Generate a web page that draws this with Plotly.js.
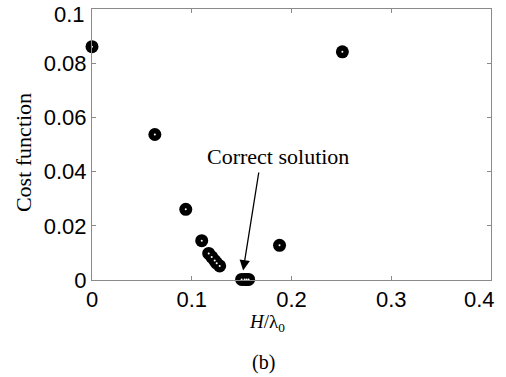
<!DOCTYPE html>
<html><head><meta charset="utf-8">
<script src="https://cdn.plot.ly/plotly-3.0.1.min.js"></script>
<style>body{margin:0;background:#fff}#c{width:506px;height:377px}</style>
</head><body><div id="c"></div>
<script>
const xVals = [0.0, 0.063, 0.251, 0.094, 0.110, 0.117, 0.120, 0.123, 0.125, 0.128, 0.188, 0.150, 0.153, 0.155, 0.157];
const yVals = [0.0861, 0.0537, 0.0842, 0.0261, 0.0145, 0.0098, 0.0085, 0.0072, 0.0062, 0.0052, 0.0128, 0.0002, 0.0002, 0.0002, 0.0002];
const xTicks = [0, 0.1, 0.2, 0.3, 0.4];
const xTickText = ['0', '0.1', '0.2', '0.3', '0.4'];
const yTicks = [0, 0.02, 0.04, 0.06, 0.08, 0.1];
const yTickText = ['0', '0.02', '0.04', '0.06', '0.08', '0.1'];
const annText = 'Correct solution';
const xTitle = '<i>H</i>/λ<sub>0</sub>';
const yTitle = 'Cost function';
const panelLabel = '(b)';
const annX = 0.1515, annY = 0.0035;

const serif = 'Liberation Serif, Times New Roman, serif';
const sans = 'Liberation Sans, Arial, sans-serif';
const traces = [
  {x: xVals, y: yVals, type: 'scatter', mode: 'markers', cliponaxis: false,
   marker: {symbol: 'circle', size: 13, color: '#000000', line: {width: 0}}, hoverinfo: 'none'},
  {x: xVals, y: yVals, type: 'scatter', mode: 'markers', cliponaxis: false,
   marker: {symbol: 'circle', size: 2, color: '#ffffff', line: {width: 0}}, hoverinfo: 'none'}
];
// Edge labels (last of each axis) are drawn as annotations so they stay inside the page, as in the reference
const xText = xTickText.map((t, i) => i === xTickText.length - 1 ? ' ' : t);
const yText = yTickText.map((t, i) => i === yTickText.length - 1 ? ' ' : t);
const axisCommon = {
  showgrid: false, zeroline: false, showline: true, linecolor: '#8a8a8a', linewidth: 1,
  mirror: 'ticks', ticks: 'inside', ticklen: 4, tickcolor: '#8a8a8a', ticklabeloverflow: 'allow',
  tickfont: {family: sans, size: 22, color: '#000000'}
};
const layout = {
  width: 506, height: 377, showlegend: false,
  paper_bgcolor: '#ffffff', plot_bgcolor: '#ffffff',
  margin: {l: 92, r: 15, t: 9, b: 97},
  xaxis: Object.assign({}, axisCommon, {range: [0, 0.4], tickvals: xTicks, ticktext: xText}),
  yaxis: Object.assign({}, axisCommon, {range: [0, 0.10002], tickvals: yTicks, ticktext: yText}),
  annotations: [
    {x: annX, y: annY, xref: 'x', yref: 'y',
     ax: 259 - (92 + annX * 997.5), ay: 171 - (280 - annY * 2710),
     text: '', showarrow: true, arrowhead: 2, arrowsize: 1.6, arrowwidth: 1.3, arrowcolor: '#000000'},
    {x: 0.186, y: 0.0455, xref: 'x', yref: 'y', text: annText, showarrow: false,
     font: {family: serif, size: 22, color: '#000000'}},
    {x: 0.4386, y: -0.159, xref: 'paper', yref: 'paper', xanchor: 'center', yanchor: 'middle',
     text: xTitle, showarrow: false, font: {family: serif, size: 19, color: '#000000'}},
    {x: -0.173, y: 0.472, xref: 'paper', yref: 'paper', xanchor: 'center', yanchor: 'middle', textangle: -90,
     text: yTitle, showarrow: false, font: {family: serif, size: 22, color: '#000000'}},
    {x: 0.431, y: -0.306, xref: 'paper', yref: 'paper', xanchor: 'center', yanchor: 'middle',
     text: panelLabel, showarrow: false, font: {family: serif, size: 20, color: '#000000'}},
    {x: -0.015, y: 0.978, xref: 'paper', yref: 'paper', xanchor: 'right', yanchor: 'middle',
     text: yTickText[yTickText.length - 1], showarrow: false, borderpad: 0, font: {family: sans, size: 22, color: '#000000'}},
    {x: 1.012, y: -0.073, xref: 'paper', yref: 'paper', xanchor: 'right', yanchor: 'middle',
     text: xTickText[xTickText.length - 1], showarrow: false, borderpad: 0, font: {family: sans, size: 22, color: '#000000'}}
  ]
};
Plotly.newPlot('c', traces, layout, {staticPlot: true});
</script></body></html>
